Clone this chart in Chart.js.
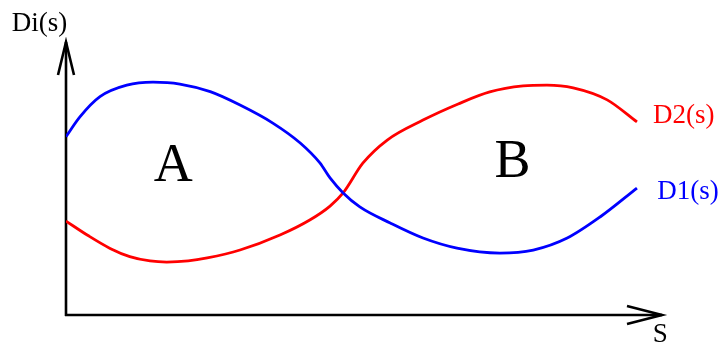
<!DOCTYPE html>
<html>
<head>
<meta charset="utf-8">
<script src="https://cdn.jsdelivr.net/npm/chart.js@4/dist/chart.umd.min.js"></script>
<style>
  body { margin: 0; background: #fff; }
  #wrap { width: 721px; height: 343px; }
</style>
</head>
<body>
<div id="wrap"><canvas id="sketch"></canvas></div>
<script>
"use strict";

// curve samples, s on the horizontal axis, D on the vertical one
const S_D1 = [0, 0.23, 0.57, 1.02, 1.46, 1.91, 2.42, 2.92, 3.47, 3.93, 4.26, 4.43, 4.65, 4.93, 5.44, 5.99, 6.56, 7.28, 7.84, 8.41, 8.96, 9.58];
const D1 = [6.53, 7.25, 8.0, 8.42, 8.53, 8.46, 8.18, 7.69, 7.03, 6.30, 5.57, 5.02, 4.47, 3.96, 3.37, 2.82, 2.45, 2.27, 2.38, 2.82, 3.59, 4.65];

const S_D2 = [0, 0.37, 0.74, 1.07, 1.41, 1.69, 2.05, 2.37, 2.92, 3.59, 4.09, 4.43, 4.65, 4.98, 5.39, 5.99, 6.58, 7.11, 7.67, 8.07, 8.51, 9.08, 9.58];
const D2 = [3.44, 2.91, 2.44, 2.14, 1.98, 1.94, 1.98, 2.09, 2.38, 2.93, 3.48, 3.99, 4.47, 5.56, 6.41, 7.14, 7.73, 8.17, 8.39, 8.42, 8.32, 7.88, 7.07];

const SERIES_LABELS = ['D1(s)', 'D2(s)'];
const REGION_LABELS = ['A', 'B'];
const AXIS_LABELS = ['S', 'Di(s)'];

const toPoints = (xs, ys) => xs.map((x, i) => ({ x: x, y: ys[i] }));

const serif = '"Liberation Serif", "DejaVu Serif", serif';

// axes with open arrow heads and the free text
const sketchPlugin = {
    id: 'sketch',
    beforeDatasetsDraw(chart) {
        const c = chart.ctx;
        const xs = chart.scales.x, ys = chart.scales.y;
        const x0 = xs.getPixelForValue(0), y0 = ys.getPixelForValue(0);
        const xEnd = xs.getPixelForValue(10), yEnd = ys.getPixelForValue(10);
        c.save();
        c.strokeStyle = '#000';
        c.lineWidth = 2.6;
        c.lineCap = 'butt';
        c.beginPath();
        c.moveTo(x0, y0 + 1);
        c.lineTo(x0, yEnd);
        c.moveTo(x0 - 1, y0);
        c.lineTo(xEnd, y0);
        c.stroke();
        c.lineJoin = 'miter';
        c.beginPath();
        c.moveTo(x0 - 8, yEnd + 33);
        c.lineTo(x0, yEnd);
        c.lineTo(x0 + 8, yEnd + 33);
        c.moveTo(xEnd - 35, y0 - 9);
        c.lineTo(xEnd, y0);
        c.lineTo(xEnd - 35, y0 + 9);
        c.stroke();
        c.restore();
    },
    afterDraw(chart) {
        const c = chart.ctx;
        const xs = chart.scales.x, ys = chart.scales.y;
        const put = (text, sx, dy, size, color, align) => {
            c.font = size + 'px ' + serif;
            c.fillStyle = color;
            c.textAlign = align;
            c.textBaseline = 'alphabetic';
            c.fillText(text, xs.getPixelForValue(sx), ys.getPixelForValue(dy));
        };
        c.save();
        put(REGION_LABELS[0], 1.80, 4.90, 54, '#000', 'center');
        put(REGION_LABELS[1], 7.49, 5.05, 54, '#000', 'center');
        put(SERIES_LABELS[1], 9.85, 7.04, 27, '#ff0000', 'left');
        put(SERIES_LABELS[0], 9.92, 4.25, 27, '#0000ff', 'left');
        put(AXIS_LABELS[1], -0.91, 10.40, 27, '#000', 'left');
        put(AXIS_LABELS[0], 9.97, -0.99, 27, '#000', 'center');
        c.restore();
    }
};

const ctx = document.getElementById('sketch').getContext('2d');
const sketch = new Chart(ctx, {
    type: 'line',
    data: {
        datasets: [{
            label: SERIES_LABELS[0],
            borderColor: '#0000ff',
            borderWidth: 2.8,
            pointRadius: 0,
            cubicInterpolationMode: 'monotone',
            fill: false,
            data: toPoints(S_D1, D1)
        }, {
            label: SERIES_LABELS[1],
            borderColor: '#ff0000',
            borderWidth: 2.8,
            pointRadius: 0,
            cubicInterpolationMode: 'monotone',
            fill: false,
            data: toPoints(S_D2, D2)
        }]
    },
    options: {
        responsive: true,
        maintainAspectRatio: false,
        animation: false,
        layout: {
            padding: { left: 66, right: 59, top: 42, bottom: 28 }
        },
        scales: {
            x: { type: 'linear', min: 0, max: 10, display: false },
            y: { type: 'linear', min: 0, max: 10, display: false }
        },
        plugins: {
            legend: { display: false },
            tooltip: { enabled: false }
        }
    },
    plugins: [sketchPlugin]
});
</script>
</body>
</html>
